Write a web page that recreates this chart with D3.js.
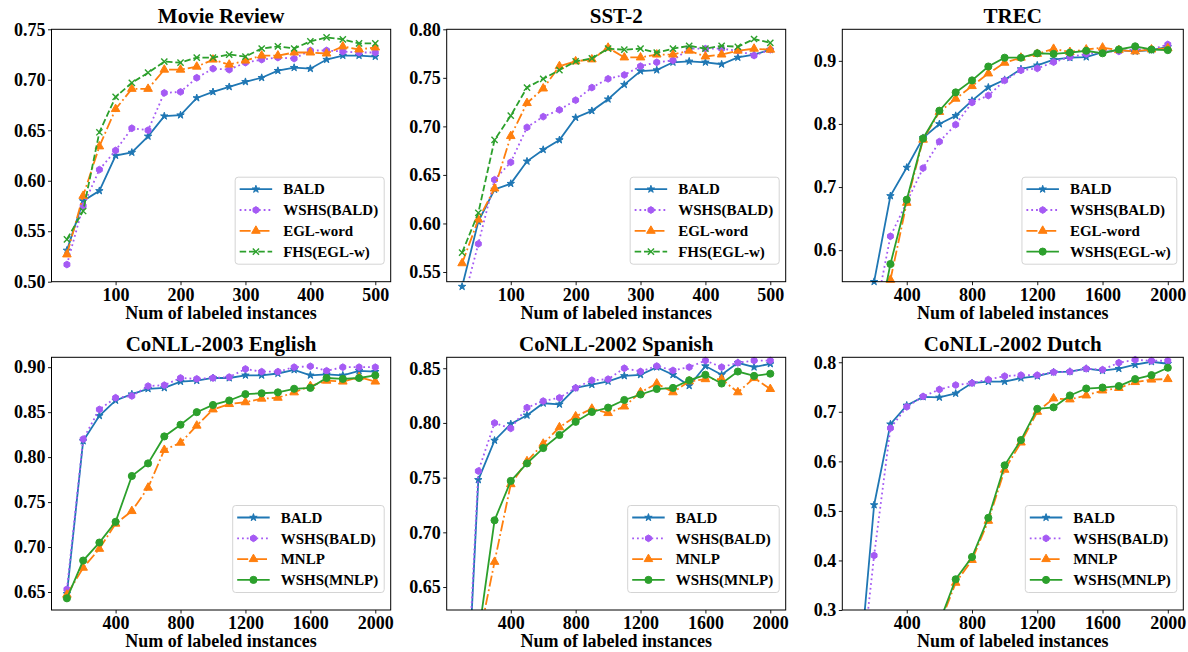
<!DOCTYPE html>
<html>
<head>
<meta charset="utf-8">
<script src="https://cdn.jsdelivr.net/npm/d3@7"></script>
<style>
  body { margin: 0; background: #fff; }
  svg text { font-family: "Liberation Serif", "Times New Roman", serif; font-weight: bold; fill: #000; }
</style>
</head>
<body>
<div id="chart"></div>
<script>
// x values (number of labeled instances)
var xSent = [25, 50, 75, 100, 125, 150, 175, 200, 225, 250, 275, 300, 325, 350, 375, 400, 425, 450, 475, 500];
var xTag = [100, 200, 300, 400, 500, 600, 700, 800, 900, 1000, 1100, 1200, 1300, 1400, 1500, 1600, 1700, 1800, 1900, 2000];

// tick labels
var xTicksSent = [100, 200, 300, 400, 500];
var xTicksTag = [400, 800, 1200, 1600, 2000];
var yTicksMr = [0.50, 0.55, 0.60, 0.65, 0.70, 0.75];
var yTicksSst = [0.55, 0.60, 0.65, 0.70, 0.75, 0.80];
var yTicksTrec = [0.6, 0.7, 0.8, 0.9];
var yTicksEn = [0.65, 0.70, 0.75, 0.80, 0.85, 0.90];
var yTicksEs = [0.65, 0.70, 0.75, 0.80, 0.85];
var yTicksNl = [0.3, 0.4, 0.5, 0.6, 0.7, 0.8];

// Movie Review
var mrBald = [0.531, 0.580, 0.590, 0.625, 0.628, 0.644, 0.664, 0.665, 0.682, 0.688, 0.693, 0.698, 0.702, 0.709, 0.712, 0.711, 0.720, 0.724, 0.724, 0.723];
var mrWshsBald = [0.517, 0.575, 0.611, 0.630, 0.652, 0.650, 0.687, 0.688, 0.702, 0.711, 0.710, 0.717, 0.720, 0.722, 0.721, 0.729, 0.729, 0.728, 0.727, 0.727];
var mrEgl = [0.527, 0.585, 0.634, 0.671, 0.691, 0.691, 0.710, 0.710, 0.713, 0.720, 0.715, 0.719, 0.724, 0.724, 0.727, 0.727, 0.726, 0.733, 0.730, 0.732];
var mrFhs = [0.542, 0.570, 0.648, 0.683, 0.697, 0.707, 0.718, 0.717, 0.722, 0.722, 0.725, 0.723, 0.731, 0.733, 0.731, 0.738, 0.742, 0.740, 0.736, 0.736];

// SST-2
var sstBald = [0.535, 0.602, 0.635, 0.641, 0.664, 0.676, 0.686, 0.709, 0.716, 0.728, 0.743, 0.757, 0.758, 0.766, 0.767, 0.766, 0.764, 0.771, 0.774, 0.779];
var sstWshsBald = [0.515, 0.579, 0.645, 0.663, 0.699, 0.710, 0.717, 0.727, 0.740, 0.749, 0.753, 0.762, 0.766, 0.768, 0.780, 0.780, 0.780, 0.778, 0.773, 0.779];
var sstEgl = [0.559, 0.604, 0.636, 0.690, 0.724, 0.739, 0.762, 0.767, 0.769, 0.781, 0.771, 0.771, 0.774, 0.774, 0.778, 0.772, 0.774, 0.778, 0.780, 0.779];
var sstFhs = [0.570, 0.611, 0.686, 0.711, 0.740, 0.749, 0.758, 0.767, 0.770, 0.780, 0.779, 0.780, 0.776, 0.780, 0.783, 0.780, 0.783, 0.782, 0.790, 0.786];

// TREC
var trecBald = [null, 0.550, 0.686, 0.731, 0.778, 0.800, 0.813, 0.837, 0.858, 0.870, 0.887, 0.893, 0.902, 0.905, 0.906, 0.914, 0.917, 0.915, 0.917, 0.922];
var trecWshsBald = [null, 0.490, 0.622, 0.676, 0.730, 0.772, 0.799, 0.834, 0.845, 0.869, 0.885, 0.888, 0.898, 0.906, 0.911, 0.914, 0.915, 0.918, 0.918, 0.926];
var trecEgl = [null, null, 0.553, 0.675, 0.775, 0.819, 0.840, 0.860, 0.880, 0.897, 0.905, 0.911, 0.919, 0.914, 0.918, 0.921, 0.917, 0.915, 0.918, 0.920];
var trecWshsEgl = [null, 0.450, 0.578, 0.680, 0.777, 0.821, 0.850, 0.869, 0.891, 0.905, 0.905, 0.912, 0.911, 0.913, 0.916, 0.912, 0.918, 0.923, 0.918, 0.917];

// CoNLL-2003 English
var enBald = [0.648, 0.818, 0.846, 0.863, 0.870, 0.876, 0.877, 0.884, 0.885, 0.888, 0.888, 0.891, 0.891, 0.893, 0.897, 0.891, 0.892, 0.891, 0.896, 0.895];
var enWshsBald = [0.653, 0.820, 0.853, 0.866, 0.868, 0.879, 0.880, 0.888, 0.887, 0.888, 0.889, 0.898, 0.895, 0.895, 0.900, 0.901, 0.896, 0.900, 0.900, 0.900];
var enMnlp = [0.647, 0.677, 0.698, 0.726, 0.740, 0.766, 0.808, 0.816, 0.835, 0.853, 0.859, 0.861, 0.865, 0.866, 0.872, 0.879, 0.885, 0.884, 0.889, 0.884];
var enWshsMnlp = [0.643, 0.685, 0.705, 0.728, 0.779, 0.793, 0.823, 0.836, 0.850, 0.858, 0.863, 0.870, 0.871, 0.872, 0.876, 0.877, 0.888, 0.887, 0.888, 0.891];

// CoNLL-2002 Spanish
var esBald = [0.450, 0.748, 0.784, 0.799, 0.807, 0.818, 0.817, 0.832, 0.835, 0.838, 0.843, 0.844, 0.851, 0.844, 0.834, 0.852, 0.844, 0.855, 0.851, 0.854];
var esWshsBald = [0.460, 0.756, 0.800, 0.795, 0.814, 0.820, 0.823, 0.832, 0.839, 0.840, 0.850, 0.847, 0.852, 0.848, 0.851, 0.857, 0.851, 0.855, 0.857, 0.857];
var esMnlp = [null, 0.600, 0.673, 0.744, 0.765, 0.781, 0.796, 0.806, 0.813, 0.809, 0.815, 0.828, 0.836, 0.828, 0.838, 0.840, 0.840, 0.828, 0.841, 0.831];
var esWshsMnlp = [null, 0.605, 0.711, 0.747, 0.763, 0.777, 0.789, 0.801, 0.810, 0.814, 0.821, 0.826, 0.831, 0.832, 0.839, 0.844, 0.836, 0.847, 0.843, 0.845];

// CoNLL-2002 Dutch
var nlBald = [0.140, 0.512, 0.675, 0.713, 0.730, 0.729, 0.737, 0.758, 0.761, 0.761, 0.768, 0.772, 0.780, 0.781, 0.787, 0.783, 0.787, 0.795, 0.801, 0.797];
var nlWshsBald = [0.110, 0.410, 0.667, 0.710, 0.731, 0.745, 0.754, 0.758, 0.765, 0.772, 0.774, 0.774, 0.780, 0.781, 0.787, 0.785, 0.799, 0.805, 0.803, 0.803];
var nlMnlp = [null, null, null, null, null, 0.270, 0.355, 0.401, 0.480, 0.583, 0.638, 0.700, 0.727, 0.725, 0.733, 0.743, 0.748, 0.760, 0.765, 0.766];
var nlWshsMnlp = [null, null, null, null, null, 0.275, 0.362, 0.407, 0.486, 0.592, 0.643, 0.706, 0.709, 0.733, 0.747, 0.749, 0.752, 0.766, 0.774, 0.789];

// line styles per method
var styles = {
  "BALD":        { color: "#1f77b4", dash: null, marker: "star" },
  "WSHS(BALD)":  { color: "#a55af4", dash: "1.8,3", marker: "hex" },
  "EGL-word":    { color: "#ff7f0e", dash: "11,3,1.8,3", marker: "tri" },
  "MNLP":        { color: "#ff7f0e", dash: "11,3,1.8,3", marker: "tri" },
  "FHS(EGL-w)":  { color: "#2ca02c", dash: "6.5,2.8", marker: "x" },
  "WSHS(EGL-w)": { color: "#2ca02c", dash: null, marker: "circle" },
  "WSHS(MNLP)":  { color: "#2ca02c", dash: null, marker: "circle" }
};

var panels = [
  { title: "Movie Review", col: 0, row: 0, xs: xSent, xd: [1.25, 523.75], yd: [0.50, 0.75], xt: xTicksSent, yt: yTicksMr, fmt: ".2f",
    series: [["BALD", mrBald], ["WSHS(BALD)", mrWshsBald], ["EGL-word", mrEgl], ["FHS(EGL-w)", mrFhs]] },
  { title: "SST-2", col: 1, row: 0, xs: xSent, xd: [1.25, 523.75], yd: [0.54, 0.80], xt: xTicksSent, yt: yTicksSst, fmt: ".2f",
    series: [["BALD", sstBald], ["WSHS(BALD)", sstWshsBald], ["EGL-word", sstEgl], ["FHS(EGL-w)", sstFhs]] },
  { title: "TREC", col: 2, row: 0, xs: xTag, xd: [5, 2095], yd: [0.55, 0.95], xt: xTicksTag, yt: yTicksTrec, fmt: ".1f",
    series: [["BALD", trecBald], ["WSHS(BALD)", trecWshsBald], ["EGL-word", trecEgl], ["WSHS(EGL-w)", trecWshsEgl]] },
  { title: "CoNLL-2003 English", col: 0, row: 1, xs: xTag, xd: [5, 2095], yd: [0.630, 0.911], xt: xTicksTag, yt: yTicksEn, fmt: ".2f",
    series: [["BALD", enBald], ["WSHS(BALD)", enWshsBald], ["MNLP", enMnlp], ["WSHS(MNLP)", enWshsMnlp]] },
  { title: "CoNLL-2002 Spanish", col: 1, row: 1, xs: xTag, xd: [5, 2095], yd: [0.629, 0.860], xt: xTicksTag, yt: yTicksEs, fmt: ".2f",
    series: [["BALD", esBald], ["WSHS(BALD)", esWshsBald], ["MNLP", esMnlp], ["WSHS(MNLP)", esWshsMnlp]] },
  { title: "CoNLL-2002 Dutch", col: 2, row: 1, xs: xTag, xd: [5, 2095], yd: [0.30, 0.81], xt: xTicksTag, yt: yTicksNl, fmt: ".1f",
    series: [["BALD", nlBald], ["WSHS(BALD)", nlWshsBald], ["MNLP", nlMnlp], ["WSHS(MNLP)", nlWshsMnlp]] }
];

// panel frames
var cols = [{ l: 51.5, r: 390.7 }, { l: 446.7, r: 785.7 }, { l: 842.3, r: 1183.3 }];
var rows = [{ t: 29.3, b: 281.7 }, { t: 357.3, b: 610 }];

var svg = d3.select("#chart").append("svg")
  .attr("width", 1188)
  .attr("height", 652);

// hexagon marker for WSHS(BALD)
var symbolHex = {
  draw: function(ctx, size) {
    var r = Math.sqrt(size / (1.5 * Math.sqrt(3)));
    for (var i = 0; i < 6; i++) {
      var a = -Math.PI / 2 + i * Math.PI / 3;
      if (i === 0) ctx.moveTo(r * Math.cos(a), r * Math.sin(a));
      else ctx.lineTo(r * Math.cos(a), r * Math.sin(a));
    }
    ctx.closePath();
  }
};

function drawMarker(g, type, color, x, y) {
  if (type === "x") {
    var s = 3.1;
    g.append("path")
      .attr("d", "M" + (x - s) + "," + (y - s) + "L" + (x + s) + "," + (y + s) + "M" + (x - s) + "," + (y + s) + "L" + (x + s) + "," + (y - s))
      .attr("stroke", color).attr("stroke-width", 1.4).attr("fill", "none");
    return;
  }
  var sym = d3.symbol();
  if (type === "star") sym.type(d3.symbolStar).size(17);
  if (type === "hex") sym.type(symbolHex).size(30);
  if (type === "tri") sym.type(d3.symbolTriangle).size(32);
  if (type === "circle") sym.type(d3.symbolCircle).size(40);
  g.append("path")
    .attr("d", sym())
    .attr("transform", "translate(" + x + "," + y + ")")
    .attr("fill", color).attr("stroke", color).attr("stroke-width", 1);
}

panels.forEach(function(p, pi) {
  var c = cols[p.col], r = rows[p.row];
  var x = d3.scaleLinear().domain(p.xd).range([c.l, c.r]);
  var y = d3.scaleLinear().domain(p.yd).range([r.b, r.t]);

  var g = svg.append("g");

  // clip for lines
  svg.append("clipPath").attr("id", "clip" + pi)
    .append("rect").attr("x", c.l).attr("y", r.t).attr("width", c.r - c.l).attr("height", r.b - r.t);

  // axes
  var xAxis = g.append("g")
    .attr("transform", "translate(0," + r.b + ")")
    .call(d3.axisBottom(x).tickValues(p.xt).tickSize(3.5).tickPadding(3).tickFormat(d3.format("d")));
  var yAxis = g.append("g")
    .attr("transform", "translate(" + c.l + ",0)")
    .call(d3.axisLeft(y).tickValues(p.yt).tickSize(3.5).tickPadding(2.5).tickFormat(d3.format(p.fmt)));
  [xAxis, yAxis].forEach(function(a) {
    a.select(".domain").remove();
    a.selectAll("line").attr("stroke", "#000").attr("stroke-width", 0.9);
    a.selectAll("text").style("font-size", "18px").attr("fill", "#000");
  });

  // lines and markers
  var plot = g.append("g");
  p.series.forEach(function(s) {
    var st = styles[s[0]];
    var pts = p.xs.map(function(xv, i) { return [xv, s[1][i]]; });
    var line = d3.line()
      .defined(function(d) { return d[1] !== null; })
      .x(function(d) { return x(d[0]); })
      .y(function(d) { return y(d[1]); });
    plot.append("path")
      .attr("clip-path", "url(#clip" + pi + ")")
      .attr("d", line(pts))
      .attr("fill", "none")
      .attr("stroke", st.color)
      .attr("stroke-width", 1.8)
      .attr("stroke-dasharray", st.dash);
    var mg = plot.append("g");
    pts.forEach(function(d) {
      if (d[1] === null) return;
      var py = y(d[1]);
      if (py > r.b + 7 || py < r.t - 7) return;
      drawMarker(mg, st.marker, st.color, x(d[0]), py);
    });
  });

  // frame
  g.append("rect")
    .attr("x", c.l).attr("y", r.t)
    .attr("width", c.r - c.l).attr("height", r.b - r.t)
    .attr("fill", "none").attr("stroke", "#000").attr("stroke-width", 1);

  // title and x label
  g.append("text")
    .attr("x", (c.l + c.r) / 2).attr("y", r.t - 6)
    .attr("text-anchor", "middle")
    .style("font-size", "21px")
    .text(p.title);
  g.append("text")
    .attr("x", (c.l + c.r) / 2).attr("y", r.b + 37)
    .attr("text-anchor", "middle")
    .style("font-size", "18px")
    .text("Num of labeled instances");

  // legend
  var lg = g.append("g");
  var box = lg.append("rect")
    .attr("rx", 3).attr("ry", 3)
    .attr("fill", "#fff").attr("fill-opacity", 0.85)
    .attr("stroke", "#d4d4d4").attr("stroke-width", 1);
  var maxW = 0;
  var items = [];
  p.series.forEach(function(s, i) {
    var t = lg.append("text")
      .style("font-size", "15px")
      .attr("dy", "0.35em")
      .text(s[0]);
    maxW = Math.max(maxW, t.node().getComputedTextLength());
    items.push(t);
  });
  var bw = 48 + maxW + 6, bh = 87;
  var bx = c.r - 6.5 - bw, by = r.b - 17.5 - bh;
  box.attr("x", bx).attr("y", by).attr("width", bw).attr("height", bh);
  p.series.forEach(function(s, i) {
    var st = styles[s[0]];
    var cy = by + 12 + i * 20.8;
    lg.append("line")
      .attr("x1", bx + 4.5).attr("x2", bx + 37)
      .attr("y1", cy).attr("y2", cy)
      .attr("stroke", st.color).attr("stroke-width", 1.8)
      .attr("stroke-dasharray", st.dash);
    drawMarker(lg, st.marker, st.color, bx + 20.75, cy);
    items[i].attr("x", bx + 48).attr("y", cy);
  });
});
</script>
</body>
</html>
